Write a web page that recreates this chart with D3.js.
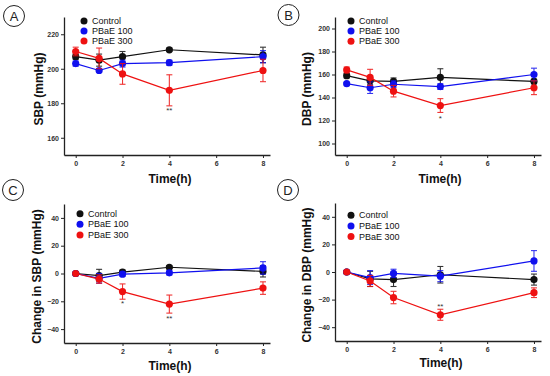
<!DOCTYPE html>
<html lang="en">
<head>
    <meta charset="UTF-8">
    <title>Blood pressure</title>
    <script src="https://d3js.org/d3.v7.min.js"></script>
    <style>
        body { margin: 0; background: #fff; }
        svg { font-family: "Liberation Sans", Arial, sans-serif; }
        .tick text { font-size: 7px; font-weight: bold; fill: #333; }
        .axis path, .axis line { stroke: #222; }
    </style>
</head>
<body>
<svg width="550" height="376"></svg>
<script type="text/javascript">
    // time points (h)
    let times = [0, 1, 2, 4, 8];
    let groups = ["Control", "PBaE 100", "PBaE 300"];
    let colors = ["#111111", "#1010ee", "#ee1111"];
    let xTicks = [0, 2, 4, 6, 8];

    // A: SBP
    let sbpControl = [207, 205, 207, 211, 208];
    let sbpControlErr = [1.5, 3.5, 3, 1, 4.5];
    let sbp100 = [203, 199, 203, 203.5, 207];
    let sbp100Err = [1.5, 1, 2, 1.5, 3.5];
    let sbp300 = [210, 206, 197, 187.5, 199];
    let sbp300Err = [2.5, 6, 6, 9, 6.5];

    // B: DBP
    let dbpControl = [159, 154.5, 154, 157.5, 154];
    let dbpControlErr = [2, 3, 3, 7.5, 2];
    let dbp100 = [152, 148.5, 151.5, 149.5, 160];
    let dbp100Err = [1, 5, 3, 2.5, 5.5];
    let dbp300 = [164, 157.5, 145.5, 133, 148.5];
    let dbp300Err = [2.5, 7, 5, 6, 6];

    // C: change in SBP
    let dSbpControl = [0, -1.5, 1, 4.5, 1.5];
    let dSbpControlErr = [0, 4.5, 1.5, 1, 4];
    let dSbp100 = [0, -3.5, -0.5, 0.5, 4];
    let dSbp100Err = [0, 3.5, 1.5, 1.5, 4.5];
    let dSbp300 = [0, -4, -13, -22, -10.5];
    let dSbp300Err = [0, 3, 5.5, 6.5, 4.5];

    // D: change in DBP
    let dDbpControl = [0, -5, -5.5, -2, -5.5];
    let dDbpControlErr = [0, 5.5, 5, 6, 4];
    let dDbp100 = [0, -4, -1, -3, 8];
    let dDbp100Err = [0, 5, 3, 4, 7.5];
    let dDbp300 = [0, -6.5, -18.5, -31, -15];
    let dDbp300Err = [0, 4, 4.5, 4, 3.5];

    let panels = [
        {letter: "A", cx: 14, cy: 16, left: 64, right: 270, top: 17, bottom: 155,
         yDomain: [150, 230], yTicks: [160, 180, 200, 220], ylabel: "SBP (mmHg)", ylabelX: 39,
         xlabelX: 170, xlabelY: 183, legX: 84, legY: [20.9, 31, 41.1],
         series: [[sbpControl, sbpControlErr], [sbp100, sbp100Err], [sbp300, sbp300Err]],
         stars: [{t: 4, y: 113, s: "**"}]},
        {letter: "B", cx: 288.5, cy: 15, left: 335, right: 541, top: 17, bottom: 155,
         yDomain: [90, 210], yTicks: [100, 120, 140, 160, 180, 200], ylabel: "DBP (mmHg)", ylabelX: 307,
         xlabelX: 440, xlabelY: 183, legX: 351, legY: [21, 31.1, 41.2],
         series: [[dbpControl, dbpControlErr], [dbp100, dbp100Err], [dbp300, dbp300Err]],
         stars: [{t: 4, y: 121, s: "*"}]},
        {letter: "C", cx: 13, cy: 190, left: 64, right: 270, top: 204, bottom: 343,
         yDomain: [-50, 50], yTicks: [-40, -20, 0, 20, 40], ylabel: "Change in SBP (mmHg)", ylabelX: 37,
         xlabelX: 170, xlabelY: 370, legX: 80, legY: [213.7, 224.3, 235],
         series: [[dSbpControl, dSbpControlErr], [dSbp100, dSbp100Err], [dSbp300, dSbp300Err]],
         stars: [{t: 2, y: 306, s: "*"}, {t: 4, y: 320.5, s: "**"}]},
        {letter: "D", cx: 288, cy: 190, left: 335, right: 541, top: 203, bottom: 341,
         yDomain: [-50, 50], yTicks: [-40, -20, 0, 20, 40], ylabel: "Change in DBP (mmHg)", ylabelX: 307,
         xlabelX: 441, xlabelY: 367, legX: 351, legY: [215.3, 225.9, 236.5],
         series: [[dDbpControl, dDbpControlErr], [dDbp100, dDbp100Err], [dDbp300, dDbp300Err]],
         stars: [{t: 4, y: 309, s: "**"}]}
    ];

    let svg = d3.select("svg");

    panels.forEach(p => {
        let g = svg.append("g");
        let x = d3.scaleLinear().domain([-0.5, 8.3]).range([p.left, p.right]);
        let y = d3.scaleLinear().domain(p.yDomain).range([p.bottom, p.top]);

        // panel letter
        g.append("circle").attr("cx", p.cx).attr("cy", p.cy).attr("r", 10.5)
            .style("fill", "none").style("stroke", "#222").style("stroke-width", 1);
        g.append("text").attr("x", p.cx).attr("y", p.cy + 4.5)
            .attr("text-anchor", "middle").style("font-size", "13px").style("fill", "#222")
            .text(p.letter);

        g.append("g").attr("class", "axis")
            .attr("transform", "translate(0," + p.bottom + ")")
            .call(d3.axisBottom(x).tickValues(xTicks).tickSize(3).tickPadding(3).tickSizeOuter(0));
        g.append("g").attr("class", "axis")
            .attr("transform", "translate(" + p.left + ",0)")
            .call(d3.axisLeft(y).tickValues(p.yTicks).tickSize(3).tickPadding(2).tickSizeOuter(0));
        g.selectAll(".axis path").style("stroke-width", 1.3);

        g.append("text")
            .attr("transform", "translate(" + p.ylabelX + "," + ((p.top + p.bottom) / 2 + 3) + ") rotate(-90)")
            .attr("text-anchor", "middle").attr("dy", "0.35em")
            .style("font-size", "12px").style("font-weight", "bold").style("fill", "#111")
            .text(p.ylabel);
        g.append("text").attr("x", p.xlabelX).attr("y", p.xlabelY)
            .attr("text-anchor", "middle")
            .style("font-size", "12px").style("font-weight", "bold").style("fill", "#111")
            .text("Time(h)");

        p.series.forEach((s, i) => {
            let vals = s[0], errs = s[1];
            let pts = times.map((t, j) => ({t: t, v: vals[j], e: errs[j]}));
            let sg = g.append("g");
            sg.append("path").datum(pts)
                .attr("d", d3.line().x(d => x(d.t)).y(d => y(d.v)))
                .style("fill", "none").style("stroke", colors[i]).style("stroke-width", 1.2);
            let eb = sg.selectAll("g.err").data(pts.filter(d => d.e > 0)).join("g")
                .style("stroke", colors[i]).style("stroke-width", 1.1).style("opacity", 0.85);
            eb.append("line").attr("x1", d => x(d.t)).attr("x2", d => x(d.t))
                .attr("y1", d => y(d.v - d.e)).attr("y2", d => y(d.v + d.e));
            eb.append("line").attr("x1", d => x(d.t) - 3).attr("x2", d => x(d.t) + 3)
                .attr("y1", d => y(d.v + d.e)).attr("y2", d => y(d.v + d.e));
            eb.append("line").attr("x1", d => x(d.t) - 3).attr("x2", d => x(d.t) + 3)
                .attr("y1", d => y(d.v - d.e)).attr("y2", d => y(d.v - d.e));
            sg.selectAll("circle").data(pts).join("circle")
                .attr("cx", d => x(d.t)).attr("cy", d => y(d.v)).attr("r", 3.6)
                .style("fill", colors[i]);
        });

        p.stars.forEach(st => {
            g.append("text").attr("x", x(st.t)).attr("y", st.y)
                .attr("text-anchor", "middle").style("font-size", "8px").style("fill", "#333")
                .text(st.s);
        });

        // legend
        groups.forEach((name, i) => {
            g.append("circle").attr("cx", p.legX).attr("cy", p.legY[i]).attr("r", 3.5)
                .style("fill", colors[i]);
            g.append("text").attr("x", p.legX + 8).attr("y", p.legY[i]).attr("dy", "0.35em")
                .style("font-size", "9px").style("fill", "#111")
                .text(name);
        });
    });
</script>
</body>
</html>
